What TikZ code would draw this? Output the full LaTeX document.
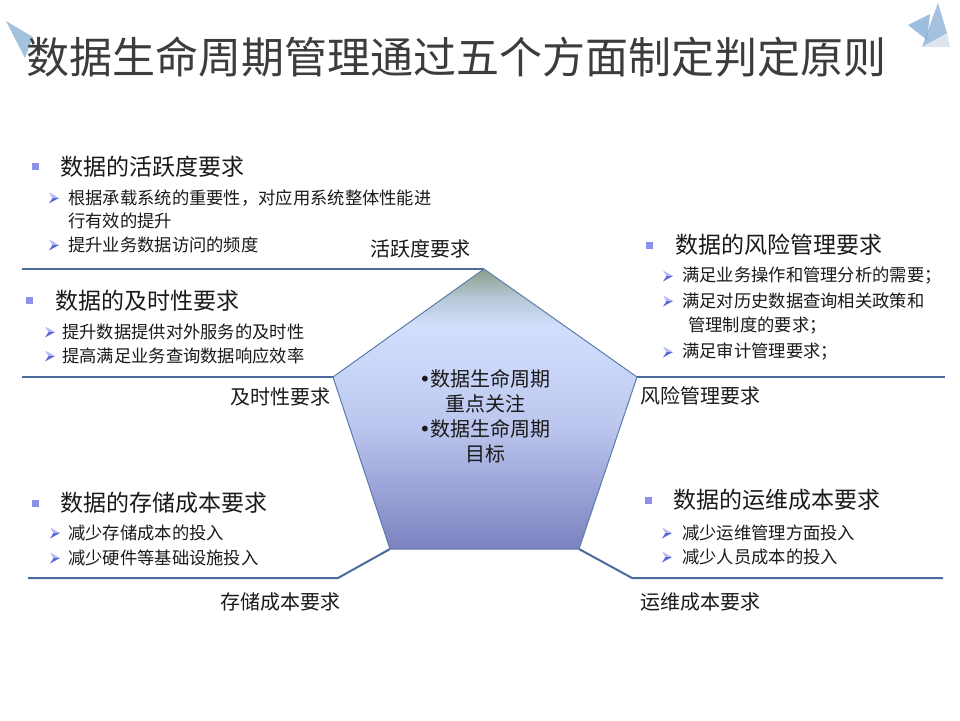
\documentclass[tikz,border=0pt]{standalone}
\usepackage{fontspec}
\setmainfont{Noto Sans CJK SC}
\newfontfamily\dejavu{DejaVu Sans}
\definecolor{linec}{HTML}{4A6B9C}
\definecolor{pedge}{HTML}{5C7DAA}
\definecolor{txt}{HTML}{1A1A1A}
\definecolor{ttl}{HTML}{3C3C3C}
\definecolor{sqc}{HTML}{8C92EC}
\definecolor{abl}{HTML}{B4BAF4}
\definecolor{abd}{HTML}{5A68DC}
\definecolor{deco}{HTML}{86AED6}
\definecolor{decol}{HTML}{A4C2DC}
\definecolor{decog}{HTML}{DDE4EE}
\definecolor{s0}{HTML}{7B82C0}
\definecolor{s1}{HTML}{BCC6EE}
\definecolor{s2}{HTML}{CCD8FA}
\definecolor{s3}{HTML}{D2DEFC}
\definecolor{s4}{HTML}{B6C6D4}
\definecolor{s5}{HTML}{8C9E8A}
\pgfdeclareverticalshading{pentshade}{100bp}{color(0bp)=(s0); color(25bp)=(s0); color(47bp)=(s1); color(59bp)=(s2); color(65bp)=(s3); color(70bp)=(s4); color(75bp)=(s5); color(100bp)=(s5)}
\begin{document}
\begin{tikzpicture}[x=1pt,y=-1pt,
  conn/.style={draw=linec,line width=2pt},
  hdr/.style={anchor=west,inner sep=0pt,text=txt,font=\fontsize{23}{26}\selectfont},
  itm/.style={anchor=west,inner sep=0pt,text=txt,font=\fontsize{17.3}{20}\selectfont},
  lbl/.style={inner sep=0pt,text=txt,font=\fontsize{20}{24}\selectfont},
  arrowb/.pic={\fill[abl] (-5,-5.5) -- (5,0) -- (-1.5,0) -- cycle;
               \fill[abd] (-1.5,0) -- (5,0) -- (-5,5.5) -- cycle;},
  sqb/.pic={\fill[sqc] (-3.5,-3.5) rectangle (3.5,3.5);}
]
\useasboundingbox (0,0) rectangle (960,720);
\fill[white] (0,0) rectangle (960,720);
% decorations
\fill[decol] (6,21) -- (33,37) -- (25,58) -- cycle;
\fill[decog] (923,47) -- (947,33) -- (950,47) -- cycle;
\fill[deco,opacity=.8] (908,25) -- (930,14) -- (927,40) -- cycle;
\fill[deco,opacity=.75] (938,3) -- (922,47) -- (947,33) -- cycle;
% title
\node[inner sep=0pt,text=ttl,font=\fontsize{43}{46}\selectfont] (title) at (456,57)
  {数据生命周期管理通过五个方面制定判定原则};
% pentagon
\coordinate (pT) at (484,269);
\coordinate (pL) at (333,377);
\coordinate (pR) at (637,377);
\coordinate (pBL) at (390,549);
\coordinate (pBR) at (579,549);
\coordinate (tl) at (22,269);
\coordinate (ml) at (22,377);
\coordinate (mr) at (945,377);
\coordinate (blk) at (338,578);
\coordinate (ble) at (28,578);
\coordinate (brk) at (632,578);
\coordinate (bre) at (943,578);
\draw[conn] (tl) -- (pT);
\draw[conn] (ml) -- (pL);
\draw[conn] (pR) -- (mr);
\draw[conn] (pBL) -- (blk) -- (ble);
\draw[conn] (pBR) -- (brk) -- (bre);
\shadedraw[shading=pentshade,draw=pedge,line width=1pt] (pT) -- (pR) -- (pBR) -- (pBL) -- (pL) -- cycle;
\node[inner sep=0pt,text=txt,align=center,font=\fontsize{20}{25}\selectfont] (center) at (485,416) {{\dejavu •}数据生命周期\\重点关注\\{\dejavu •}数据生命周期\\目标};
% labels
\node[lbl] (l1) at (420,249) {活跃度要求};
\node[lbl,anchor=east] (l2) at (331,397) {及时性要求};
\node[lbl,anchor=west] (l3) at (640,396) {风险管理要求};
\node[lbl] (l4) at (280,602) {存储成本要求};
\node[lbl,anchor=west] (l5) at (640,602) {运维成本要求};
% group A
\pic at (35,166) {sqb};
\node[hdr] (hA) at (60,167) {数据的活跃度要求};
\pic at (54,198) {arrowb};
\node[itm] (a1) at (68,198) {根据承载系统的重要性，对应用系统整体性能进};
\node[itm] (a1b) at (68,221) {行有效的提升};
\pic at (54,245) {arrowb};
\node[itm] (a2) at (68,245) {提升业务数据访问的频度};
% group B
\pic at (29,300) {sqb};
\node[hdr] (hB) at (55,301) {数据的及时性要求};
\pic at (50,332) {arrowb};
\node[itm] (b1) at (62,332) {提升数据提供对外服务的及时性};
\pic at (50,356) {arrowb};
\node[itm] (b2) at (62,356) {提高满足业务查询数据响应效率};
% group C
\pic at (35,503) {sqb};
\node[hdr] (hC) at (60,503) {数据的存储成本要求};
\pic at (55,533) {arrowb};
\node[itm] (c1) at (68,533) {减少存储成本的投入};
\pic at (55,558) {arrowb};
\node[itm] (c2) at (68,558) {减少硬件等基础设施投入};
% group D
\pic at (649,245) {sqb};
\node[hdr] (hD) at (675,245) {数据的风险管理要求};
\pic at (668,276) {arrowb};
\node[itm] (d1) at (682,276) {满足业务操作和管理分析的需要；};
\pic at (668,301) {arrowb};
\node[itm] (d2) at (682,301) {满足对历史数据查询相关政策和};
\node[itm] (d2b) at (688,326) {管理制度的要求；};
\pic at (668,352) {arrowb};
\node[itm] (d3) at (682,352) {满足审计管理要求；};
% group E
\pic at (648,500) {sqb};
\node[hdr] (hE) at (673,500) {数据的运维成本要求};
\pic at (667,533) {arrowb};
\node[itm] (e1) at (682,533) {减少运维管理方面投入};
\pic at (667,557) {arrowb};
\node[itm] (e2) at (682,557) {减少人员成本的投入};
\end{tikzpicture}
\end{document}
